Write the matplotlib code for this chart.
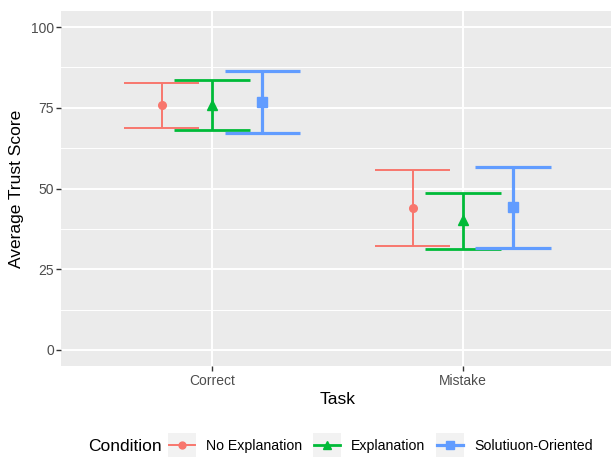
import matplotlib.pyplot as plt
from matplotlib.lines import Line2D
from matplotlib.patches import Rectangle
from matplotlib.legend_handler import HandlerLine2D

plt.rcParams['font.family'] = ['Liberation Sans', 'DejaVu Sans']

# data
tasks = ['Correct', 'Mistake']
conditions = ['No Explanation', 'Explanation', 'Solutiuon-Oriented']
means = {
    'No Explanation': [75.8, 44.1],
    'Explanation': [76.0, 40.4],
    'Solutiuon-Oriented': [76.7, 44.2],
}
upper = {
    'No Explanation': [82.7, 55.7],
    'Explanation': [83.5, 48.5],
    'Solutiuon-Oriented': [86.3, 56.7],
}
lower = {
    'No Explanation': [68.8, 32.2],
    'Explanation': [68.2, 31.4],
    'Solutiuon-Oriented': [67.1, 31.5],
}

colors = ['#F8766D', '#00BA38', '#619CFF']
markers = ['o', '^', 's']
msizes = [5.5, 6.5, 6.5]
lwidths = [1.4, 2.0, 2.3]
dodge = [-0.2, 0.0, 0.2]
cap_half = 0.15


class KeyHandler(HandlerLine2D):
    # grey key background like ggplot legend keys
    def create_artists(self, legend, orig_handle, xdescent, ydescent,
                       width, height, fontsize, trans):
        bg = Rectangle((-xdescent + width / 2 - 10, -ydescent + height / 2 - 8.5), 20, 17,
                       facecolor='#F2F2F2', edgecolor='none', transform=trans)
        arts = super().create_artists(legend, orig_handle, xdescent, ydescent,
                                      width, height, fontsize, trans)
        return [bg] + arts


fig, ax = plt.subplots(figsize=(6.11, 4.57), dpi=100)
fig.subplots_adjust(left=0.1005, right=1.004, top=0.976, bottom=0.199)
ax.set_facecolor('#EBEBEB')

xs = list(range(1, len(tasks) + 1))
handles = []
for i, cond in enumerate(conditions):
    px = [x + dodge[i] for x in xs]
    ax.vlines(px, lower[cond], upper[cond], color=colors[i], lw=lwidths[i], zorder=3)
    for j, x in enumerate(px):
        ax.hlines([lower[cond][j], upper[cond][j]], x - cap_half, x + cap_half,
                  color=colors[i], lw=lwidths[i], zorder=3)
    ax.plot(px, means[cond], linestyle='none', marker=markers[i], ms=msizes[i],
            color=colors[i], zorder=4)
    handles.append(Line2D([], [], color=colors[i], lw=lwidths[i], marker=markers[i],
                          ms=msizes[i] * 0.9, label=cond))

ax.set_xlim(0.4, 2.6)
ax.set_ylim(-5, 105)
ax.set_xticks(xs)
ax.set_xticklabels(tasks)
ax.set_yticks([0, 25, 50, 75, 100])
ax.set_yticks([12.5, 37.5, 62.5, 87.5], minor=True)
ax.grid(which='major', color='white', lw=1.4)
ax.grid(which='minor', axis='y', color='white', lw=0.7)
ax.set_axisbelow(True)
for s in ax.spines.values():
    s.set_visible(False)
ax.tick_params(which='major', length=3.5, width=1, color='#333333',
               labelcolor='#4D4D4D', labelsize=10, pad=2)
ax.tick_params(which='minor', length=0)

ax.set_xlabel('Task', fontsize=12.5, labelpad=3)
ax.set_ylabel('Average Trust Score', fontsize=12.5, labelpad=5)

fig.text(0.144, 0.024, 'Condition', fontsize=12.5, va='center', ha='left')
fig.legend(handles=handles, loc='center left', bbox_to_anchor=(0.256, 0.024),
           ncol=3, frameon=False, fontsize=10.2, handlelength=1.8,
           handletextpad=0.8, columnspacing=0.85,
           handler_map={Line2D: KeyHandler()})

fig.savefig('out.png', dpi=100)
